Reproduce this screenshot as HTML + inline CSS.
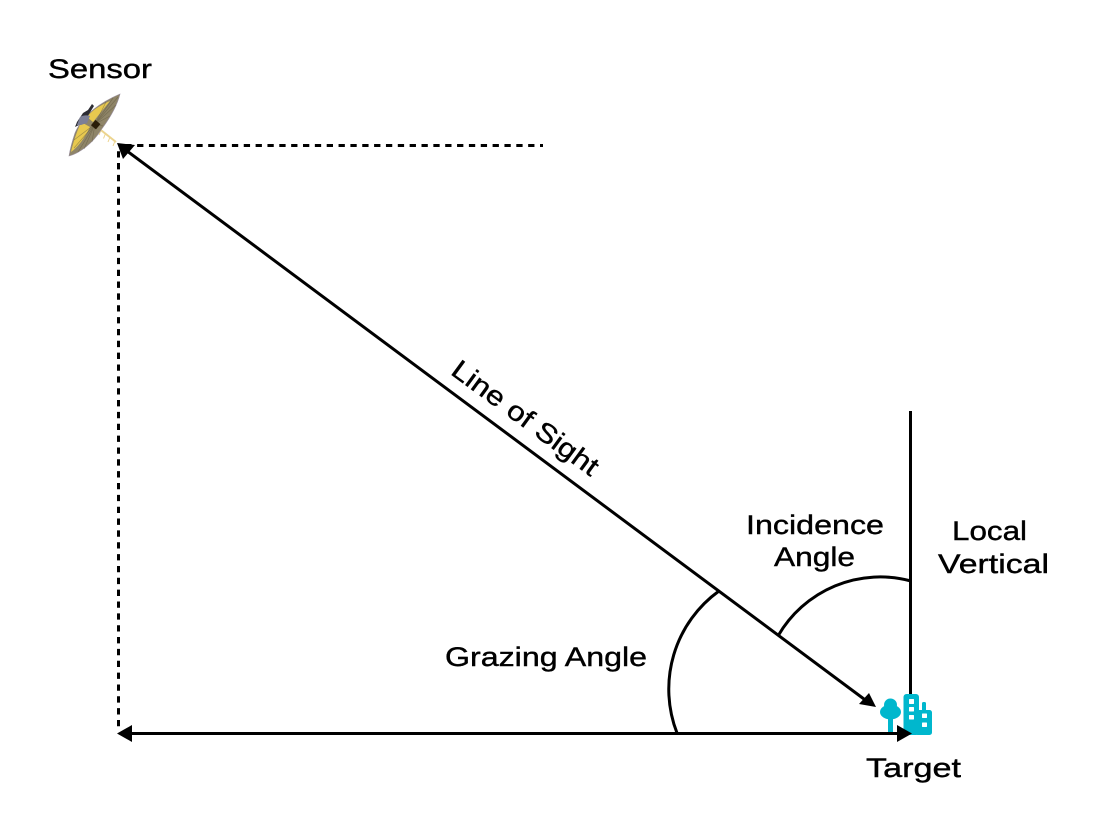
<!DOCTYPE html>
<html lang="en">
<head>
<meta charset="utf-8">
<title>Line of Sight Geometry</title>
<style>
html,body{margin:0;padding:0;background:#fff;width:1095px;height:834px;overflow:hidden}
svg{display:block}
text{font-family:"Liberation Sans",sans-serif;font-size:27px;fill:#000;stroke:#000;stroke-width:.4px}
</style>
</head>
<body>
<svg width="1095" height="834" viewBox="0 0 1095 834" xmlns="http://www.w3.org/2000/svg">
  <rect width="1095" height="834" fill="#fff"/>

  <!-- dashed guides -->
  <line x1="543" y1="145.500" x2="119" y2="145.500" stroke="#000" stroke-width="3" stroke-dasharray="6.300 5.550" stroke-dashoffset="3.300"/>
  <line x1="118.500" y1="726.300" x2="118.500" y2="146" stroke="#000" stroke-width="3" stroke-dasharray="6.300 5.550"/>

  <!-- local vertical -->
  <line x1="910.500" y1="411" x2="910.500" y2="695" stroke="#000" stroke-width="3"/>

  <!-- arcs -->
  <path d="M719 591 A121 121 0 0 0 677 733" fill="none" stroke="#000" stroke-width="3"/>
  <path d="M778 636 A118 118 0 0 1 911 581" fill="none" stroke="#000" stroke-width="3"/>

  <!-- target icon -->
  <g fill="#00b7cd">
    <circle cx="890.500" cy="705" r="6.500"/>
    <ellipse cx="890.500" cy="712" rx="10.500" ry="7.500"/>
    <rect x="888" y="712" width="5" height="23"/>
    <rect x="903.500" y="694" width="15.500" height="41" rx="3"/>
    <rect x="922" y="702" width="4" height="10" rx="1.500"/>
    <rect x="915" y="710" width="17" height="25" rx="2.500"/>
  </g>
  <g fill="#fff">
    <rect x="909" y="699" width="5" height="5" rx=".6"/>
    <rect x="909" y="707" width="5" height="4.500" rx=".6"/>
    <rect x="909" y="715" width="5" height="4.500" rx=".6"/>
    <rect x="922" y="713.500" width="5" height="4.500" rx=".6"/>
    <rect x="922" y="722.500" width="5" height="4.500" rx=".6"/>
  </g>

  <!-- horizontal arrow -->
  <line x1="125" y1="733.500" x2="900" y2="733.500" stroke="#000" stroke-width="3"/>
  <polygon points="117,733.500 132,725 132,742" fill="#000"/>
  <polygon points="912,733.500 897,725 897,742" fill="#000"/>

  <!-- line of sight -->
  <line x1="125" y1="149.500" x2="868" y2="702" stroke="#000" stroke-width="3"/>
  <polygon points="117,143 135,145 123,159" fill="#000"/>
  <polygon points="876,707 869,693 859,704" fill="#000"/>

  <!-- sensor boom -->
  <line x1="97" y1="127" x2="116" y2="142" stroke="#ecd48e" stroke-width="2"/>
  <g stroke="#ecd48e" stroke-width="1">
    <line x1="101" y1="130" x2="99" y2="135"/>
    <line x1="105.500" y1="133.500" x2="103.500" y2="138.500"/>
    <line x1="110" y1="137" x2="108" y2="142"/>
    <line x1="115" y1="141" x2="113" y2="146"/>
  </g>
  <!-- dish -->
  <path d="M120 94 C106 100 84 112 75 133 C72 142 70 150 69 156 C80 153 93 143 101 130 C110 118 117 106 120 94 Z" fill="#8f8568" stroke="#9a90a0" stroke-width=".6"/>
  <path d="M110 101 C101 105 92 110 87 117 L93 122 Z" fill="#e8c94f"/>
  <path d="M77 132 C74 140 72 147 71 152 C78 147 84 139 90 127 L81 122 Z" fill="#e8c94f"/>
  <g stroke="#5e563c" stroke-width=".7" opacity=".5">
    <line x1="95" y1="124" x2="118" y2="97"/>
    <line x1="95" y1="124" x2="113" y2="98"/>
    <line x1="95" y1="124" x2="106" y2="102"/>
    <line x1="95" y1="124" x2="116" y2="105"/>
    <line x1="95" y1="124" x2="110" y2="116"/>
    <line x1="95" y1="124" x2="103" y2="126"/>
    <line x1="95" y1="124" x2="92" y2="142"/>
    <line x1="95" y1="124" x2="84" y2="149"/>
    <line x1="95" y1="124" x2="78" y2="152"/>
    <line x1="95" y1="124" x2="74" y2="148"/>
    <line x1="95" y1="124" x2="74" y2="140"/>
  </g>
  <!-- feed -->
  <path d="M92 104 L94 106 L89 114 L86 119 L79 125 L75 127 L77 122 L83 113 L88 110 Z" fill="#2c2c33"/>
  <path d="M80 117 C83 115 87 115 90 116 L87 123 L81 125 L77 125 Z" fill="#7c7f96"/>
  <rect x="92.500" y="121" width="6.500" height="7" fill="#2a1d08" transform="rotate(40 95.500 124.500)"/>

  <!-- labels -->
  <text x="48" y="78" textLength="104" lengthAdjust="spacingAndGlyphs">Sensor</text>
  <text x="866" y="777" textLength="95" lengthAdjust="spacingAndGlyphs">Target</text>
  <text x="445" y="666" textLength="202" lengthAdjust="spacingAndGlyphs">Grazing Angle</text>
  <text x="746" y="534" textLength="138" lengthAdjust="spacingAndGlyphs">Incidence</text>
  <text x="774" y="566" textLength="81" lengthAdjust="spacingAndGlyphs">Angle</text>
  <text x="952" y="540" textLength="75" lengthAdjust="spacingAndGlyphs">Local</text>
  <text x="938" y="573" textLength="111" lengthAdjust="spacingAndGlyphs">Vertical</text>
  <text transform="translate(449.500 373.500) rotate(36.200)" x="0" y="0" textLength="175" lengthAdjust="spacingAndGlyphs">Line of Sight</text>
</svg>
</body>
</html>
